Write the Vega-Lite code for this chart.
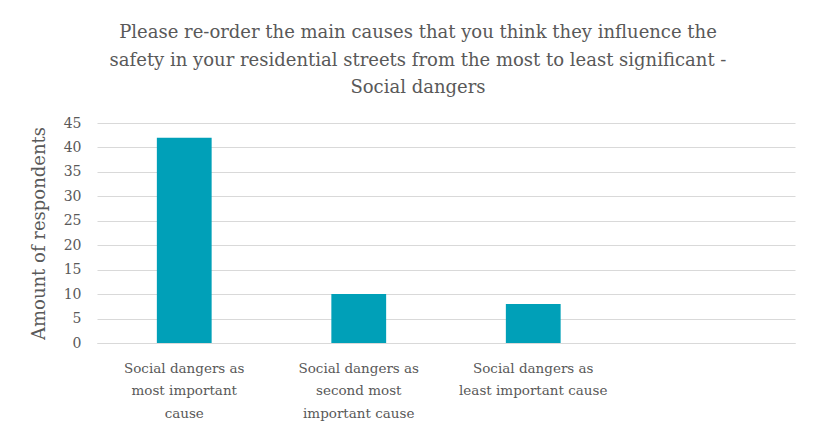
{
  "$schema": "https://vega.github.io/schema/vega-lite/v6.json",
  "autosize": "none",
  "width": 698,
  "height": 220,
  "padding": {"left": 97, "top": 123, "right": 22, "bottom": 93},
  "background": "white",
  "title": {
    "text": ["Please re-order the main causes that you think they influence the", "safety in your residential streets from the most to least significant -", "Social dangers"],
    "font": "DejaVu Serif",
    "fontSize": 18,
    "fontWeight": "normal",
    "color": "#595959",
    "lineHeight": 27.5,
    "anchor": "middle",
    "dx": -28,
    "offset": 19
  },
  "data": {
    "values": [
      {"cause": "Social dangers as most important cause", "count": 42},
      {"cause": "Social dangers as second most important cause", "count": 10},
      {"cause": "Social dangers as least important cause", "count": 8}
    ]
  },
  "mark": {"type": "bar", "color": "#00A0B8"},
  "encoding": {
    "x": {
      "field": "cause",
      "type": "nominal",
      "sort": null,
      "scale": {
        "domain": ["Social dangers as most important cause", "Social dangers as second most important cause", "Social dangers as least important cause", " "],
        "paddingInner": 0.686,
        "paddingOuter": 0.343
      },
      "axis": {
        "title": null,
        "labelAngle": 0,
        "labelFont": "DejaVu Serif",
        "labelFontSize": 13.5,
        "labelColor": "#595959",
        "labelLineHeight": 22.5,
        "labelPadding": 18,
        "labelBaseline": "top",
        "labelLimit": 200,
        "ticks": false,
        "domainColor": "#D9D9D9",
        "domainWidth": 1,
        "labelExpr": "datum.value == 'Social dangers as most important cause' ? ['Social dangers as', 'most important', 'cause'] : datum.value == 'Social dangers as second most important cause' ? ['Social dangers as', 'second most', 'important cause'] : datum.value == 'Social dangers as least important cause' ? ['Social dangers as', 'least important cause'] : ''"
      }
    },
    "y": {
      "field": "count",
      "type": "quantitative",
      "scale": {"domain": [0, 45], "nice": false},
      "axis": {
        "title": "Amount of respondents",
        "titleFont": "DejaVu Serif",
        "titleFontSize": 18,
        "titleFontWeight": "normal",
        "titleColor": "#595959",
        "titlePadding": 15,
        "values": [0, 5, 10, 15, 20, 25, 30, 35, 40, 45],
        "labelFont": "DejaVu Serif",
        "labelFontSize": 14,
        "labelColor": "#595959",
        "labelPadding": 16,
        "ticks": false,
        "domain": false,
        "gridColor": "#D9D9D9",
        "gridWidth": 1
      }
    }
  },
  "config": {
    "view": {"stroke": null}
  }
}
